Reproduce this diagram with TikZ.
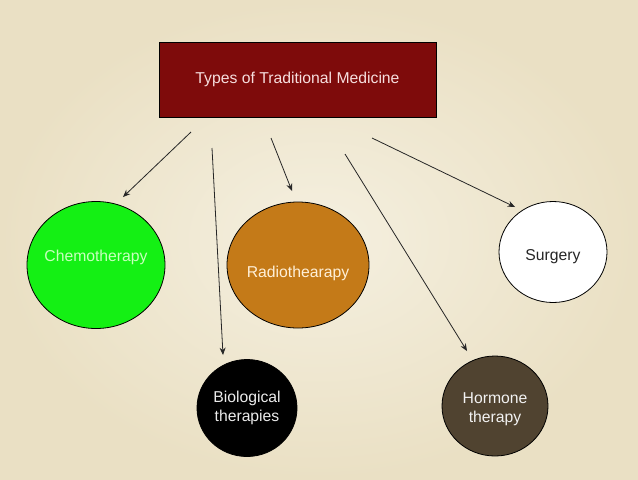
\documentclass[tikz,border=0pt]{standalone}
\usepackage{fontspec}
\setmainfont{Liberation Sans}
\usetikzlibrary{shapes.geometric,arrows.meta}
\definecolor{bgin}{RGB}{245,240,224}
\definecolor{bgout}{RGB}{234,224,196}
\definecolor{boxred}{RGB}{126,11,11}
\definecolor{boxtxt}{RGB}{246,222,222}
\definecolor{chemo}{RGB}{20,240,20}
\definecolor{chemotxt}{RGB}{200,255,190}
\definecolor{radio}{RGB}{196,122,24}
\definecolor{radiotxt}{RGB}{255,240,216}
\definecolor{hormone}{RGB}{80,67,48}
\begin{document}
\begin{tikzpicture}[x=0.75pt,y=-0.75pt,
  every node/.style={font=\fontsize{11.8}{14.5}\selectfont},
  blob/.style={ellipse,draw=black,line width=0.6pt,inner sep=0pt},
  conn/.style={draw=black!85,line width=0.6pt,-{Stealth[length=5.5pt,width=4.5pt]}}]
\shade[inner color=bgin,outer color=bgout] (0,0) rectangle (638,479);
\useasboundingbox (0,0) rectangle (638,479);
\node[draw=black,line width=0.6pt,fill=boxred,text=boxtxt,minimum width=207.75pt,minimum height=56.25pt,inner sep=0pt] (top) at (297.5,79.5) {Types of Traditional Medicine};
\node[blob,fill=chemo,minimum width=103.5pt,minimum height=95.25pt,
  label={[text=chemotxt,yshift=6pt]center:Chemotherapy}] (chemo) at (96,265) {};
\node[blob,fill=radio,minimum width=106.5pt,minimum height=94.5pt,
  label={[text=radiotxt,yshift=-6pt]center:Radiothearapy}] (radio) at (298,265) {};
\node[blob,fill=black,text=white!92!black,minimum width=75pt,minimum height=72.75pt,align=center] (bio) at (247,408) {Biological\\therapies};
\node[blob,fill=hormone,text=white!95!black,minimum width=79.5pt,minimum height=75pt,align=center,
  label={[text=white!95!black,align=center,yshift=-2.5pt]center:Hormone\\therapy}] (hormone) at (495,406) {};
\node[blob,fill=white,text=black!85,minimum width=81pt,minimum height=75.75pt,
  label={[text=black!85,yshift=-3.5pt]center:Surgery}] (surgery) at (553,252) {};
\coordinate (s1) at (191,132); \coordinate (e1) at (123,197);
\coordinate (s2) at (212,148); \coordinate (e2) at (223,355);
\coordinate (s3) at (271,138); \coordinate (e3) at (292,191);
\coordinate (s4) at (345,154); \coordinate (e4) at (467,351);
\coordinate (s5) at (372,138); \coordinate (e5) at (515,207);
\draw[conn] (s1) -- (e1);
\draw[conn] (s2) -- (e2);
\draw[conn] (s3) -- (e3);
\draw[conn] (s4) -- (e4);
\draw[conn] (s5) -- (e5);
\end{tikzpicture}
\end{document}
